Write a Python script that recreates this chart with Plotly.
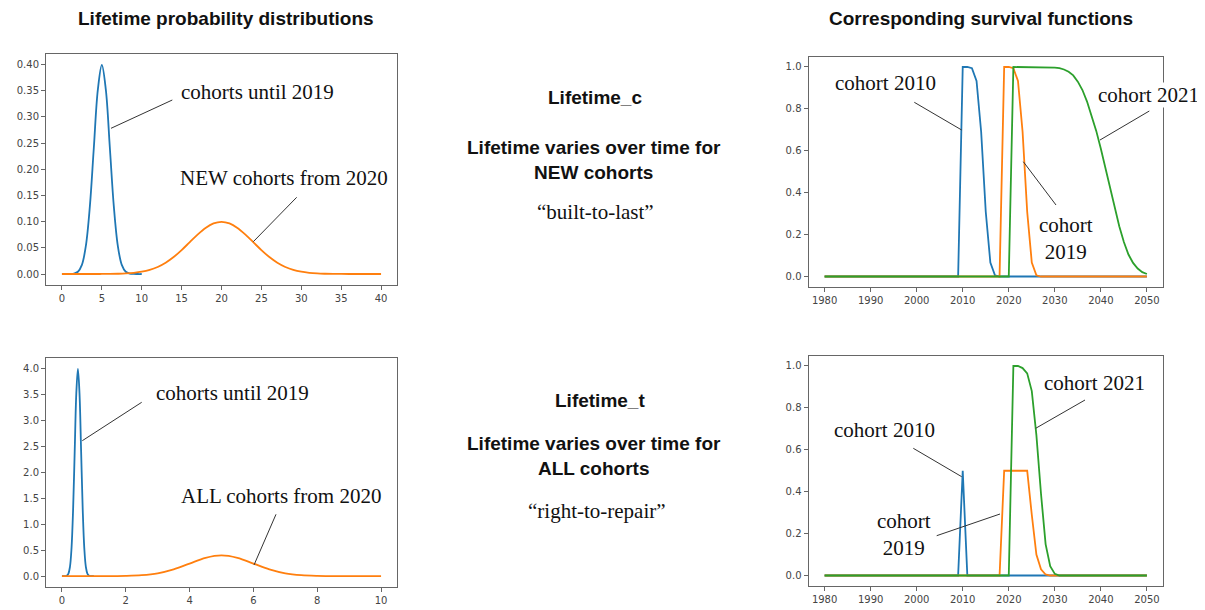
import plotly.graph_objects as go

# ---------------- data ----------------
# Lifetime_c: probability distributions (top-left)
c_old_age = [0, 0.5, 1, 1.5, 2, 2.5, 3, 3.5, 4, 4.5, 5, 5.5, 6, 6.5, 7, 7.5, 8, 8.5, 9, 9.5, 10]
c_old_pdf = [0, 0, 0.0001, 0.0009, 0.0044, 0.0175, 0.054, 0.1295, 0.242, 0.352, 0.399,
             0.352, 0.242, 0.1295, 0.054, 0.0175, 0.0044, 0.0009, 0.0001, 0, 0]
c_new_age = [0, 1, 2, 3, 4, 5, 6, 7, 8, 9, 10, 11, 12, 13, 14, 15, 16, 17, 18, 19, 20,
             21, 22, 23, 24, 25, 26, 27, 28, 29, 30, 31, 32, 33, 34, 35, 36, 37, 38, 39, 40]
c_new_pdf = [0, 0, 0, 0, 0, 0.0001, 0.0002, 0.0005, 0.0011, 0.0023, 0.0044, 0.0079, 0.0135,
             0.0216, 0.0324, 0.0457, 0.0605, 0.0753, 0.088, 0.0966, 0.0997, 0.0966, 0.088,
             0.0753, 0.0605, 0.0457, 0.0324, 0.0216, 0.0135, 0.0079, 0.0044, 0.0023, 0.0011,
             0.0005, 0.0002, 0.0001, 0, 0, 0, 0, 0]

# Lifetime_t: probability distributions (bottom-left)
t_old_age = [0, 0.05, 0.1, 0.15, 0.2, 0.25, 0.3, 0.35, 0.4, 0.45, 0.5, 0.55, 0.6, 0.65,
             0.7, 0.75, 0.8, 0.85, 0.9, 0.95, 1.0]
t_old_pdf = [0, 0, 0.001, 0.009, 0.044, 0.175, 0.54, 1.295, 2.42, 3.52, 3.99, 3.52, 2.42,
             1.295, 0.54, 0.175, 0.044, 0.009, 0.001, 0, 0]
t_new_age = [0, 0.5, 1, 1.5, 2, 2.5, 3, 3.5, 4, 4.5, 5, 5.5, 6, 6.5, 7, 7.5, 8, 8.5, 9, 9.5, 10]
t_new_pdf = [0, 0, 0.0001, 0.0009, 0.0044, 0.0175, 0.054, 0.1295, 0.242, 0.352, 0.399,
             0.352, 0.242, 0.1295, 0.054, 0.0175, 0.0044, 0.0009, 0.0001, 0, 0]

# Lifetime_c: survival functions (top-right)
c2010_year = [1980, 2009, 2010, 2011, 2012, 2013, 2014, 2015, 2016, 2017, 2018, 2050]
c2010_sf = [0, 0, 1, 1, 0.994, 0.933, 0.691, 0.309, 0.067, 0.006, 0, 0]
c2019_year = [1980, 2018, 2019, 2020, 2021, 2022, 2023, 2024, 2025, 2026, 2027, 2050]
c2019_sf = [0, 0, 1, 1, 0.994, 0.933, 0.691, 0.309, 0.067, 0.006, 0, 0]
c2021_year = [1980, 2020, 2021, 2022, 2023, 2024, 2025, 2026, 2027, 2028, 2029, 2030,
              2031, 2032, 2033, 2034, 2035, 2036, 2037, 2038, 2039, 2040, 2041, 2042,
              2043, 2044, 2045, 2046, 2047, 2048, 2049, 2050]
c2021_sf = [0, 0, 1, 1, 1, 1, 1, 1, 1, 1, 0.999, 0.997, 0.994, 0.988, 0.977, 0.96, 0.93,
            0.89, 0.835, 0.77, 0.695, 0.61, 0.52, 0.42, 0.33, 0.24, 0.165, 0.105, 0.065,
            0.038, 0.021, 0.012]

# Lifetime_t: survival functions (bottom-right)
t2010_year = [1980, 2009, 2010, 2011, 2050]
t2010_sf = [0, 0, 0.5, 0, 0]
t2019_year = [1980, 2018, 2019, 2020, 2021, 2022, 2023, 2024, 2025, 2026, 2027, 2028, 2029, 2050]
t2019_sf = [0, 0, 0.5, 0.5, 0.5, 0.5, 0.5, 0.5, 0.29, 0.1, 0.03, 0.005, 0, 0]
t2021_year = [1980, 2020, 2021, 2022, 2023, 2024, 2025, 2026, 2027, 2028, 2029, 2030, 2031, 2050]
t2021_sf = [0, 0, 1, 1, 0.99, 0.965, 0.88, 0.67, 0.39, 0.15, 0.045, 0.008, 0, 0]

pdf_xticks_c = [0, 5, 10, 15, 20, 25, 30, 35, 40]
pdf_yticks_c = [0, 0.05, 0.10, 0.15, 0.20, 0.25, 0.30, 0.35, 0.40]
pdf_xticks_t = [0, 2, 4, 6, 8, 10]
pdf_yticks_t = [0, 0.5, 1.0, 1.5, 2.0, 2.5, 3.0, 3.5, 4.0]
year_ticks = [1980, 1990, 2000, 2010, 2020, 2030, 2040, 2050]
sf_ticks = [0, 0.2, 0.4, 0.6, 0.8, 1.0]

# ---------------- styling ----------------
BLUE, ORANGE, GREEN = "#1f77b4", "#ff7f0e", "#2ca02c"
OFF = 8                      # page body margin
W, H = 1205 - OFF, 610 - OFF  # figure size so the page fits the window
SERIF = "Liberation Serif, Georgia, serif"
SANS = "Liberation Sans, Arial, sans-serif"


def px(x):
    return (x - OFF) / W


def py(y):
    return 1 - (y - OFF) / H


fig = go.Figure()


def add_line(x, y, color, xa, ya, spline=False):
    fig.add_trace(go.Scatter(
        x=x, y=y, mode="lines", xaxis=xa, yaxis=ya, showlegend=False,
        line=dict(color=color, width=1.8, shape="spline" if spline else "linear",
                  smoothing=1.0 if spline else None),
        hoverinfo="skip"))


add_line(c_old_age, c_old_pdf, BLUE, "x", "y", True)
add_line(c_new_age, c_new_pdf, ORANGE, "x", "y", True)
add_line(c2010_year, c2010_sf, BLUE, "x2", "y2")
add_line(c2019_year, c2019_sf, ORANGE, "x2", "y2")
add_line(c2021_year, c2021_sf, GREEN, "x2", "y2")
add_line(t_old_age, t_old_pdf, BLUE, "x3", "y3", True)
add_line(t_new_age, t_new_pdf, ORANGE, "x3", "y3", True)
add_line(t2010_year, t2010_sf, BLUE, "x4", "y4")
add_line(t2019_year, t2019_sf, ORANGE, "x4", "y4")
add_line(t2021_year, t2021_sf, GREEN, "x4", "y4")

axis_common = dict(showline=True, mirror=True, linecolor="#666", linewidth=1,
                   showgrid=False, zeroline=False, ticks="outside", ticklen=4,
                   tickcolor="#666", tickfont=dict(family="DejaVu Sans", size=10, color="#444"),
                   fixedrange=True)

left_x = [px(46), px(397)]
right_x = [px(808.5), px(1163)]

fig.update_layout(
    width=W, height=H, margin=dict(l=0, r=0, t=0, b=0),
    paper_bgcolor="white", plot_bgcolor="white",
    xaxis=dict(domain=left_x, range=[-2, 42], tickvals=pdf_xticks_c, anchor="y", **axis_common),
    yaxis=dict(domain=[py(284.5), py(54)], range=[-0.02, 0.42], tickvals=pdf_yticks_c,
               tickformat=".2f", anchor="x", **axis_common),
    xaxis2=dict(domain=right_x, range=[1976.5, 2053.5], tickvals=year_ticks, anchor="y2", **axis_common),
    yaxis2=dict(domain=[py(287), py(56.5)], range=[-0.05, 1.05], tickvals=sf_ticks,
                tickformat=".1f", anchor="x2", **axis_common),
    xaxis3=dict(domain=left_x, range=[-0.5, 10.5], tickvals=pdf_xticks_t, anchor="y3", **axis_common),
    yaxis3=dict(domain=[py(586.5), py(358)], range=[-0.2, 4.2], tickvals=pdf_yticks_t,
                tickformat=".1f", anchor="x3", **axis_common),
    xaxis4=dict(domain=right_x, range=[1976.5, 2053.5], tickvals=year_ticks, anchor="y4", **axis_common),
    yaxis4=dict(domain=[py(586), py(355.5)], range=[-0.05, 1.05], tickvals=sf_ticks,
                tickformat=".1f", anchor="x4", **axis_common),
)

annotations = []


def text(t, cx, cy, font, size, bg=None):
    a = dict(text=t, x=px(cx), y=py(cy), xref="paper", yref="paper", showarrow=False,
             xanchor="center", yanchor="middle", align="center",
             font=dict(family=font, size=size, color="#111"))
    if bg:
        a["bgcolor"] = bg
        a["borderpad"] = 0
    annotations.append(a)


# titles
text("<b>Lifetime probability distributions</b>", 226, 18.5, SANS, 19)
text("<b>Corresponding survival functions</b>", 981, 18.5, SANS, 19)
# middle column
text("<b>Lifetime_c</b>", 595, 97, SANS, 19)
text("<b>Lifetime varies over time for<br>NEW cohorts</b>", 594, 159.5, SANS, 19)
text("\u201cbuilt-to-last\u201d", 595, 212, SERIF, 21)
text("<b>Lifetime_t</b>", 600, 400, SANS, 19)
text("<b>Lifetime varies over time for<br>ALL cohorts</b>", 594, 455.5, SANS, 19)
text("\u201cright-to-repair\u201d", 597, 511, SERIF, 21)
# panel labels
text("cohorts until 2019", 257.5, 92.3, SERIF, 21)
text("NEW cohorts from 2020", 284.2, 178.3, SERIF, 21)
text("cohort 2010", 885.7, 83.3, SERIF, 21)
text("cohort 2021", 1148.5, 95, SERIF, 21, bg="white")
text("cohort<br>2019", 1065.5, 238.3, SERIF, 21)
text("cohorts until 2019", 232.5, 392.7, SERIF, 21)
text("ALL cohorts from 2020", 280.5, 495.7, SERIF, 21)
text("cohort 2021", 1094.2, 383.3, SERIF, 21)
text("cohort 2010", 884.5, 430, SERIF, 21)
text("cohort<br>2019", 903.6, 534, SERIF, 21)

connectors = [
    (111, 128.3, 172.3, 100), (253.3, 241.7, 296.7, 197.3),
    (914.3, 102.3, 961.7, 130), (1149.3, 111, 1100, 140), (1056, 205, 1023.3, 161.7),
    (141.7, 402.3, 82.3, 440.7), (276, 514.3, 254, 565),
    (1085, 400, 1035.7, 428.3), (913.3, 448.3, 961.7, 476.7), (936.7, 535.7, 1000, 514),
]
shapes = [dict(type="line", xref="paper", yref="paper", x0=px(a), y0=py(b), x1=px(c), y1=py(d),
               line=dict(color="#333", width=1)) for a, b, c, d in connectors]

fig.update_layout(annotations=annotations, shapes=shapes)
fig.write_html("out.html")
